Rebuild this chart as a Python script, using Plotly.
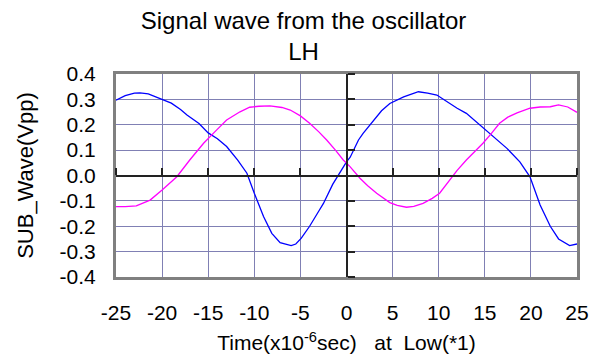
import plotly.graph_objects as go

# Blue trace (SUB wave, channel 1)
blue_t = [-25, -24, -23, -22.4, -21.5, -20, -19, -18, -17.3, -16, -15, -14, -13, -11.8,
          -11.2, -10.8, -10, -9, -8.1, -7.2, -6, -5.5, -4.9, -4, -3, -2.5, -1.5, -1,
          0, 0.4, 1.3, 1.8, 2.9, 3.8, 4.7, 6.2, 7.8, 8.8, 9.8, 10.5, 11.2, 12, 13,
          14.5, 15.6, 16.5, 17.4, 18.8, 19.9, 21, 22.1, 23, 24.2, 25]
blue_v = [0.297, 0.315, 0.325, 0.326, 0.322, 0.300, 0.285, 0.260, 0.238, 0.205, 0.168,
          0.145, 0.114, 0.061, 0.030, 0.009, -0.070, -0.162, -0.228, -0.265, -0.276,
          -0.270, -0.247, -0.200, -0.140, -0.110, -0.035, -0.005, 0.054, 0.072, 0.140,
          0.166, 0.216, 0.255, 0.284, 0.310, 0.330, 0.325, 0.317, 0.300, 0.282, 0.265,
          0.245, 0.199, 0.166, 0.135, 0.107, 0.054, -0.005, -0.116, -0.200, -0.250,
          -0.276, -0.270]

# Magenta trace
mag_t = [-25, -24, -22.8, -21.3, -20, -18.4, -17, -15.5, -14.1, -13, -11.55, -10.5, -9.5,
         -8.3, -7, -6.1, -5, -4, -3, -2.15, -1.2, -0.35, 0.38, 1.46, 2.3, 3.27, 4.7, 5.5,
         6.5, 7.3, 8.3, 9.3, 10.1, 11.2, 12, 13, 14.8, 15.7, 16.6, 17.5, 18.5, 19.9, 21,
         22.1, 23, 24, 25]
mag_v = [-0.123, -0.123, -0.120, -0.097, -0.057, -0.005, 0.061, 0.127, 0.179, 0.219,
         0.251, 0.269, 0.273, 0.274, 0.268, 0.258, 0.235, 0.206, 0.172, 0.140, 0.100,
         0.061, 0.035, -0.011, -0.040, -0.070, -0.107, -0.118, -0.125, -0.122, -0.110,
         -0.090, -0.070, -0.018, 0.020, 0.061, 0.127, 0.165, 0.206, 0.230, 0.247, 0.265,
         0.270, 0.271, 0.278, 0.270, 0.249]

x_ticks = [-25, -20, -15, -10, -5, 0, 5, 10, 15, 20, 25]
y_ticks = [-0.4, -0.3, -0.2, -0.1, 0.0, 0.1, 0.2, 0.3, 0.4]
y_tick_text = ["-0.4", "-0.3", "-0.2", "-0.1", "0.0", "0.1", "0.2", "0.3", "0.4"]

FONT = "Liberation Sans, Arial, sans-serif"
GRID = "#8080b4"

fig = go.Figure()
fig.add_trace(go.Scatter(x=blue_t, y=blue_v, mode="lines",
                         line=dict(color="#0000ff", width=1.3), showlegend=False))
fig.add_trace(go.Scatter(x=mag_t, y=mag_v, mode="lines",
                         line=dict(color="#ff00ff", width=1.3), showlegend=False))
# empty helper trace so the zero-crossing axes (x2/y2) are drawn
fig.add_trace(go.Scatter(x=[None], y=[None], xaxis="x2", yaxis="y2", mode="lines",
                         showlegend=False, hoverinfo="skip"))

fig.update_layout(
    width=607, height=362,
    margin=dict(l=116, r=30, t=74, b=85, autoexpand=False),
    paper_bgcolor="white", plot_bgcolor="white",
    font=dict(family=FONT, size=21, color="black"),
    title=dict(text="Signal wave from the oscillator<br>LH",
               x=0.5, xref="container", xanchor="center",
               y=0.92, yref="container", yanchor="top",
               font=dict(family=FONT, size=24, color="black")),
    xaxis=dict(range=[-25, 25], tickvals=x_ticks, ticktext=[str(v) for v in x_ticks],
               showgrid=True, gridcolor=GRID, gridwidth=1, zeroline=False,
               showline=True, linecolor="#808080", linewidth=3, mirror=True,
               ticks="", ticklabelstandoff=15,
               title=dict(text="Time(x10<sup>-6</sup>sec)&nbsp;&nbsp;&nbsp;at&nbsp;&nbsp;Low(*1)",
                          standoff=13, font=dict(size=21))),
    yaxis=dict(range=[-0.4, 0.4], tickvals=y_ticks, ticktext=y_tick_text,
               showgrid=True, gridcolor=GRID, gridwidth=1, zeroline=False,
               showline=True, linecolor="#808080", linewidth=3, mirror=True,
               ticks="", ticklabelstandoff=13,
               title=dict(text="SUB_Wave(Vpp)", standoff=20, font=dict(size=22))),
    xaxis2=dict(overlaying="x", anchor="free", position=0.5, side="top",
                range=[-25, 25], tickvals=x_ticks, showticklabels=False,
                showgrid=False, zeroline=False, showline=True, linecolor="#222222",
                linewidth=2, ticks="outside", ticklen=7, tickwidth=2, tickcolor="#222222"),
    yaxis2=dict(overlaying="y", anchor="free", position=0.5, side="right",
                range=[-0.4, 0.4], tickvals=y_ticks, showticklabels=False,
                showgrid=False, zeroline=False, showline=True, linecolor="#222222",
                linewidth=2, ticks="outside", ticklen=7, tickwidth=2, tickcolor="#222222"),
)

fig.write_html("out.html", config={"displayModeBar": False},
               post_script="document.body.style.margin='0';document.body.style.overflow='hidden';")
